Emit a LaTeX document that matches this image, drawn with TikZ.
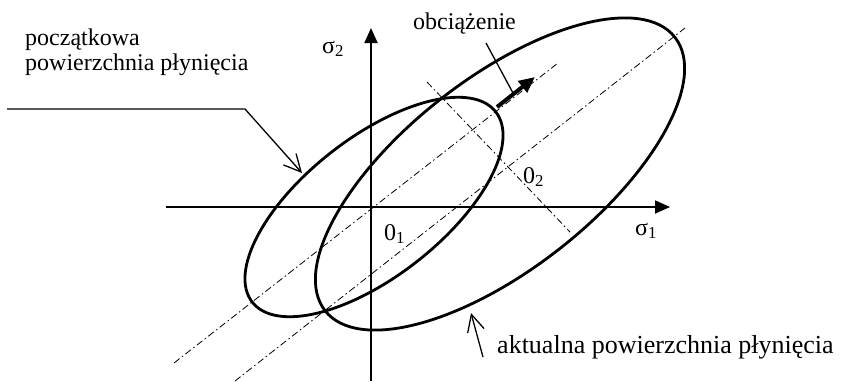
\documentclass[tikz,border=0pt]{standalone}
\usepackage{fontspec}
\setmainfont{Liberation Serif}
\usetikzlibrary{arrows.meta}
\begin{document}
\begin{tikzpicture}[x=1pt,y=-1pt,
  surf/.style={line width=2.8pt},
  axis/.style={line width=1.8pt,-{Triangle[length=15pt,width=13pt]}},
  centerline/.style={line width=0.8pt,dash pattern=on 7pt off 3pt on 1.5pt off 3pt},
  leader/.style={line width=1.3pt},
  openhead/.style={-{Straight Barb[length=17pt,width=17pt]}},
  lbl/.style={inner sep=0pt,anchor=base west,font=\fontsize{24}{25}\selectfont},
]
\useasboundingbox (0,0) rectangle (842,381);
% axes
\coordinate (h0) at (166,207);
\coordinate (h1) at (670,207);
\coordinate (v0) at (371,381);
\coordinate (v1) at (371,28);
\draw[axis] (h0) -- (h1);
\draw[axis] (v0) -- (v1);
% centres
\coordinate (O1) at (374,207);
\coordinate (O2) at (500,174);
% centre lines
\coordinate (a1) at (174,363);
\coordinate (a2) at (558,63);
\coordinate (b1) at (235,381);
\coordinate (b2) at (685,28);
\coordinate (c1) at (427,82);
\coordinate (c2) at (570,232);
\draw[centerline] (a1) -- (a2);
\draw[centerline] (b1) -- (b2);
\draw[centerline] (c1) -- (c2);
% yield surfaces
\draw[surf] (O1) ellipse [x radius=154.5pt, y radius=69.4pt, rotate=38];
\draw[surf] (O2) ellipse [x radius=222pt, y radius=95.6pt, rotate=38];
% labels
\node[lbl] (s2) at (322,53) {σ\textsubscript{2}};
\node[lbl] (s1) at (635,235) {σ\textsubscript{1}};
\node[lbl] (o1) at (384,240) {0\textsubscript{1}};
\node[lbl] (o2) at (523,183) {0\textsubscript{2}};
\node[lbl] (load) at (413,29) {obciążenie};
\node[lbl,align=left] (init) at (25,70) {początkowa\\powierzchnia płynięcia};
\node[lbl,font=\fontsize{26}{28}\selectfont] (curr) at (497,353) {aktualna powierzchnia płynięcia};
% leaders
\coordinate (p0) at (7,109);
\coordinate (p1) at (245,109);
\coordinate (p2) at (302,173);
\draw[leader,openhead] (p0) -- (p1) -- (p2);
\coordinate (q0) at (486,43);
\coordinate (q1) at (513,93);
\draw[leader] (q0) -- (q1);
\coordinate (r0) at (483,357);
\coordinate (r1) at (471,313);
\draw[leader,openhead] (r0) -- (r1);
% loading direction
\coordinate (l0) at (497,107);
\coordinate (l1) at (535,77);
\draw[line width=4pt,-{Triangle[length=16pt,width=14pt]}] (l0) -- (l1);
\end{tikzpicture}
\end{document}
